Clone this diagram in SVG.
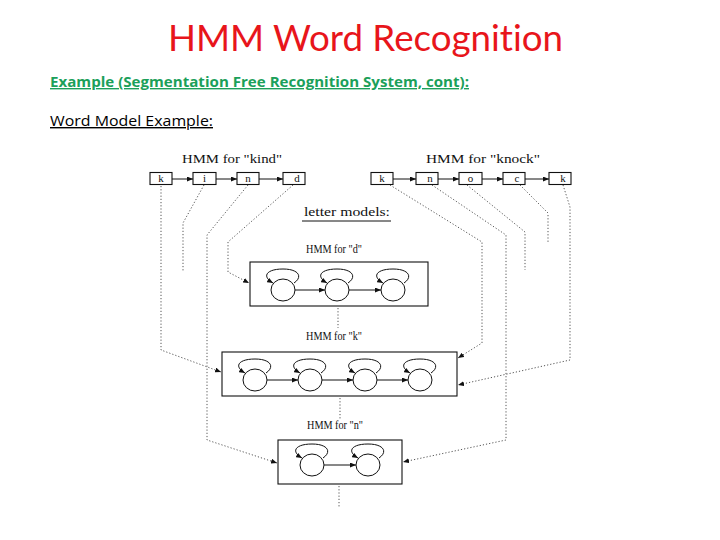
<svg xmlns="http://www.w3.org/2000/svg" width="720" height="540" viewBox="0 0 720 540">
<style>
.title{font-family:Lato,"Liberation Sans",sans-serif;font-size:36px;fill:#e8151b;font-variant-ligatures:none;font-feature-settings:"liga" 0}
.sub{font-family:"Open Sans","Liberation Sans",sans-serif;font-size:14px;font-weight:bold;fill:#1ba05a;text-decoration:underline}
.sub2{font-family:"Open Sans","Liberation Sans",sans-serif;font-size:14px;fill:#000;text-decoration:underline}
.lbl{font-family:"Liberation Serif",serif;font-size:12px;fill:#111}
.bl{font-family:"Liberation Serif",serif;font-size:11px;fill:#111}
.box{fill:#fff;stroke:#111;stroke-width:1.1}
.st{fill:#fff;stroke:#111;stroke-width:1}
.solid{fill:none;stroke:#111;stroke-width:1;marker-end:url(#ah)}
.dot{fill:none;stroke:#555;stroke-width:1;stroke-dasharray:1.2 2}
.dota{fill:none;stroke:#555;stroke-width:1;stroke-dasharray:1.2 2;marker-end:url(#ah)}
</style>
<defs>
<marker id="ah" markerWidth="6" markerHeight="5" refX="6" refY="2.5" orient="auto" markerUnits="userSpaceOnUse">
<path d="M0,0 L6,2.5 L0,5 Z" fill="#111"/>
</marker>
<g id="state">
<ellipse class="st" cx="0" cy="0" rx="12" ry="11"/>
<path class="solid" d="M11,-7 C20,-13 16,-21 0,-21 C-16,-21 -22,-14 -10,-7"/>
</g>
</defs>
<rect width="720" height="540" fill="#fff"/>
<text class="title" x="168" y="51" textLength="395" lengthAdjust="spacingAndGlyphs">HMM Word Recognition</text>
<text class="sub" x="50" y="87" textLength="419" lengthAdjust="spacingAndGlyphs">Example (Segmentation Free Recognition System, cont):</text>
<text class="sub2" x="50" y="126" textLength="163" lengthAdjust="spacingAndGlyphs">Word Model Example:</text>

<g id="connectors">
<path class="solid" d="M172,179 L193,179"/>
<path class="solid" d="M216,179 L237,179"/>
<path class="solid" d="M259,179 L283,179"/>
<path class="solid" d="M393,179 L416,179"/>
<path class="solid" d="M438,179 L459,179"/>
<path class="solid" d="M482,179 L503,179"/>
<path class="solid" d="M525,179 L549,179"/>
<path class="dota" d="M161,186 L161,350 L221,372"/>
<path class="dot" d="M204,185 L183,223 L183,272"/>
<path class="dota" d="M248,185 L207,235 L207,440 L277,463"/>
<path class="dota" d="M293,185 L228,242 L228,272 L249,283"/>
<path class="dota" d="M390,185 L482,242 L482,343 L458,358"/>
<path class="dota" d="M432,185 L506,235 L506,440 L403,462"/>
<path class="dot" d="M467,185 L525,232 L525,270"/>
<path class="dot" d="M520,185 L548,213 L548,243"/>
<path class="dota" d="M563,185 L570,207 L570,360 L458,385"/>
<path class="dot" d="M338,308 L338,328"/>
<path class="dot" d="M340,398 L340,420"/>
<path class="dot" d="M339,486 L339,508"/>
</g>

<g id="hmm-kind">
<text class="lbl" x="182" y="163" textLength="100" lengthAdjust="spacingAndGlyphs">HMM for "kind"</text>
<g id="kind-k"><rect class="box" x="150" y="172.5" width="22" height="12"/><text class="bl" x="161" y="182" text-anchor="middle">k</text></g>
<g id="kind-i"><rect class="box" x="193" y="172.5" width="23" height="12"/><text class="bl" x="204.5" y="182" text-anchor="middle">i</text></g>
<g id="kind-n"><rect class="box" x="237" y="172.5" width="22" height="12"/><text class="bl" x="248" y="182" text-anchor="middle">n</text></g>
<g id="kind-d"><rect class="box" x="283" y="172.5" width="22" height="12"/><text class="bl" x="297" y="182" text-anchor="middle">d</text></g>
</g>

<g id="hmm-knock">
<text class="lbl" x="426" y="163" textLength="114" lengthAdjust="spacingAndGlyphs">HMM for "knock"</text>
<g id="knock-k1"><rect class="box" x="371" y="172.5" width="22" height="12"/><text class="bl" x="382" y="182" text-anchor="middle">k</text></g>
<g id="knock-n"><rect class="box" x="416" y="172.5" width="22" height="12"/><text class="bl" x="430" y="182" text-anchor="middle">n</text></g>
<g id="knock-o"><rect class="box" x="459" y="172.5" width="23" height="12"/><text class="bl" x="470.5" y="182" text-anchor="middle">o</text></g>
<g id="knock-c"><rect class="box" x="503" y="172.5" width="22" height="12"/><text class="bl" x="517" y="182" text-anchor="middle">c</text></g>
<g id="knock-k2"><rect class="box" x="549" y="172.5" width="22" height="12"/><text class="bl" x="563" y="182" text-anchor="middle">k</text></g>
</g>

<g id="letter-models-label">
<text class="lbl" x="304" y="216" textLength="86" lengthAdjust="spacingAndGlyphs">letter models:</text>
<line x1="302" y1="221" x2="391" y2="221" stroke="#111" stroke-width="1"/>
</g>

<g id="hmm-d">
<text class="lbl" x="306" y="253" textLength="56" lengthAdjust="spacingAndGlyphs">HMM for "d"</text>
<rect class="box" x="250" y="262" width="178" height="44"/>
<use href="#state" x="283" y="290"/>
<use href="#state" x="337" y="290"/>
<use href="#state" x="393" y="290"/>
<path class="solid" d="M295,290 L325,290"/>
<path class="solid" d="M349,290 L381,290"/>
</g>

<g id="hmm-k">
<text class="lbl" x="306" y="340" textLength="56" lengthAdjust="spacingAndGlyphs">HMM for "k"</text>
<rect class="box" x="222" y="352" width="235" height="44"/>
<use href="#state" x="255" y="380"/>
<use href="#state" x="310" y="380"/>
<use href="#state" x="365" y="380"/>
<use href="#state" x="420" y="380"/>
<path class="solid" d="M267,380 L298,380"/>
<path class="solid" d="M322,380 L353,380"/>
<path class="solid" d="M377,380 L408,380"/>
</g>

<g id="hmm-n">
<text class="lbl" x="307" y="429" textLength="56" lengthAdjust="spacingAndGlyphs">HMM for "n"</text>
<rect class="box" x="278" y="440" width="124" height="44"/>
<use href="#state" x="312" y="465"/>
<use href="#state" x="368" y="465"/>
<path class="solid" d="M324,465 L356,465"/>
</g>
</svg>
